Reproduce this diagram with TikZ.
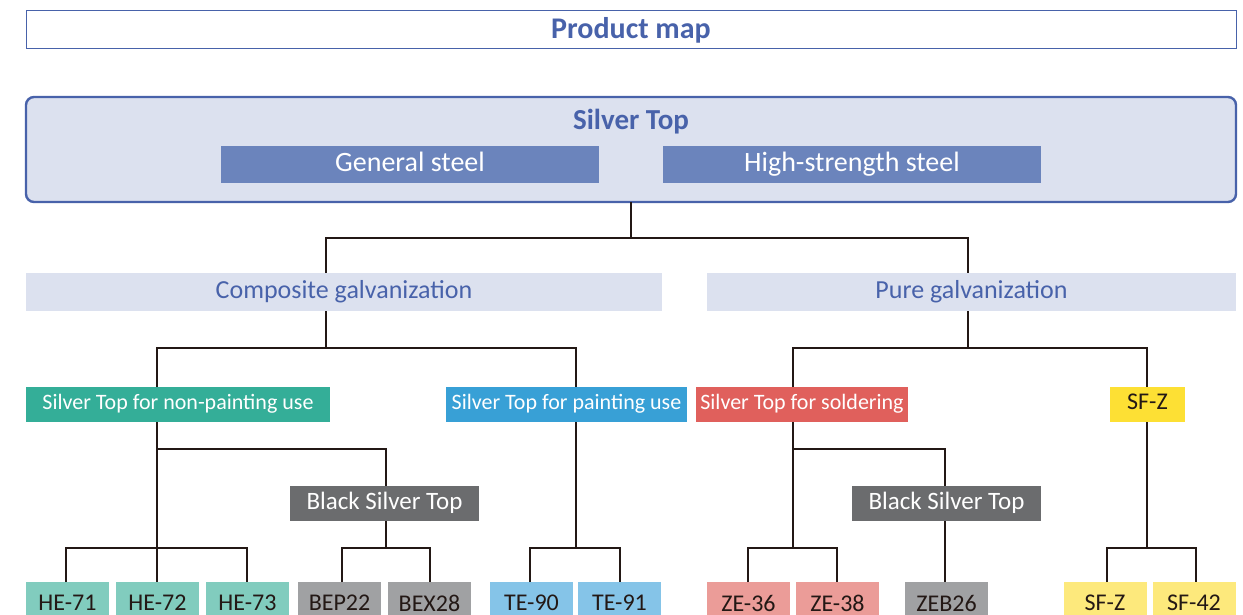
\documentclass[tikz,border=0pt]{standalone}
\usepackage{fontspec}
\setmainfont{Carlito}
\usepackage{tikz}

\definecolor{mapblue}{RGB}{72,98,170}
\definecolor{mappale}{RGB}{220,225,239}
\definecolor{steelblue}{RGB}{107,132,188}
\definecolor{linedark}{RGB}{35,24,21}
\definecolor{grn}{RGB}{52,174,152}
\definecolor{grnlight}{RGB}{129,204,190}
\definecolor{pblue}{RGB}{56,160,214}
\definecolor{pbluelight}{RGB}{133,196,232}
\definecolor{sred}{RGB}{224,96,92}
\definecolor{sredlight}{RGB}{235,156,152}
\definecolor{syel}{RGB}{253,224,52}
\definecolor{syellight}{RGB}{253,233,124}
\definecolor{bgray}{RGB}{107,108,110}
\definecolor{bgraylight}{RGB}{160,161,163}

\tikzset{
  box/.style={inner sep=0pt,outer sep=0pt,align=center},
  catbox/.style={box,fill=mappale,text=mapblue,minimum height=38pt,text height=18.2pt,text depth=5.7pt,font=\fontsize{26}{28}\selectfont},
  steelbox/.style={box,fill=steelblue,text=white,minimum width=378pt,minimum height=37pt,text height=19.6pt,text depth=6.2pt,font=\fontsize{28}{30}\selectfont},
  usebox/.style={box,text=white,minimum height=35pt,text height=15.4pt,text depth=4.8pt,font=\fontsize{22}{24}\selectfont},
  blackbox/.style={box,fill=bgray,text=white,minimum width=189pt,minimum height=35pt,text height=17.5pt,text depth=5.5pt,font=\fontsize{25}{27}\selectfont},
  leaf/.style={box,text=linedark,minimum width=83pt,minimum height=42pt,text depth=0pt,font=\fontsize{24}{26}\selectfont},
  link/.style={draw=linedark,line width=2.8pt}
}

\begin{document}
\begin{tikzpicture}[x=1pt,y=-1pt]
	\useasboundingbox (0,0) rectangle (1243,615);
	\clip (0,0) rectangle (1243,615);
	% Titel
	\node[box,draw=mapblue,line width=1pt,minimum width=1210pt,minimum height=38pt,text=mapblue,font=\fontsize{30}{32}\selectfont\bfseries] (title) at (631,30) {Product map};
	% Silver Top
	\node[box,draw=mapblue,fill=mappale,line width=2.4pt,rounded corners=8pt,minimum width=1210pt,minimum height=105pt] (st) at (631,149.5) {};
	\node[box,text=mapblue,font=\fontsize{29}{31}\selectfont\bfseries] (sttext) at (631,122) {Silver Top};
	\node[steelbox] (gen) at (410,164.5) {General steel};
	\node[steelbox] (hss) at (852,164.5) {High-strength steel};
	% Verzinkung
	\node[catbox,minimum width=636pt] (comp) at (344,292) {Composite galvanization};
	\node[catbox,minimum width=529pt] (pure) at (971.5,292) {Pure galvanization};
	% Verwendung
	\node[usebox,fill=grn,minimum width=304pt] (nsp) at (178,404.5) {Silver Top for non-painting use};
	\node[usebox,fill=pblue,minimum width=241pt] (pnt) at (566.5,404.5) {Silver Top for painting use};
	\node[usebox,fill=sred,minimum width=212pt] (sld) at (802,404.5) {Silver Top for soldering};
	\node[usebox,fill=syel,text=linedark,minimum width=75pt,font=\fontsize{24}{26}\selectfont] (sfz) at (1147.5,404.5) {SF-Z};
	\node[blackbox] (bst1) at (384.5,503.5) {Black Silver Top};
	\node[blackbox] (bst2) at (946.5,503.5) {Black Silver Top};
	% Produkte
	\node[leaf,fill=grnlight] (he71) at (67.5,603) {HE-71};
	\node[leaf,fill=grnlight] (he72) at (157.5,603) {HE-72};
	\node[leaf,fill=grnlight] (he73) at (247.5,603) {HE-73};
	\node[leaf,fill=bgraylight] (bep22) at (339.5,603) {BEP22};
	\node[leaf,fill=bgraylight] (bex28) at (429.5,603) {BEX28};
	\node[leaf,fill=pbluelight] (te90) at (531.5,603) {TE-90};
	\node[leaf,fill=pbluelight] (te91) at (619.5,603) {TE-91};
	\node[leaf,fill=sredlight] (ze36) at (748.5,603) {ZE-36};
	\node[leaf,fill=sredlight] (ze38) at (837.5,603) {ZE-38};
	\node[leaf,fill=bgraylight] (zeb26) at (946.5,603) {ZEB26};
	\node[leaf,fill=syellight] (sfz2) at (1105,603) {SF-Z};
	\node[leaf,fill=syellight] (sf42) at (1194,603) {SF-42};
	% Verbindungen
	\coordinate (j0) at (631,238);
	\coordinate (j1) at (326,348);
	\coordinate (j2) at (968,348);
	\coordinate (j3) at (157,548);
	\coordinate (j3b) at (157,449);
	\coordinate (j4) at (386,548);
	\coordinate (j5) at (576,548);
	\coordinate (j6) at (793,548);
	\coordinate (j6b) at (793,449);
	\coordinate (j7) at (1147,548);
	\draw[link] (st.south) -- (j0);
	\draw[link] (j1 |- comp.north) |- (j0) -| (j2 |- pure.north);
	\draw[link] (j1 |- comp.south) -- (j1);
	\draw[link] (j3 |- nsp.north) |- (j1) -| (j5 |- pnt.north);
	\draw[link] (j2 |- pure.south) -- (j2);
	\draw[link] (j6 |- sld.north) |- (j2) -| (j7 |- sfz.north);
	% links
	\draw[link] (j3 |- nsp.south) -- (j3 |- he72.north);
	\draw[link] (he71.north -| 66,0) |- (j3) -| (he73.north -| 247,0);
	\draw[link] (j3b) -| (j4 |- bst1.north);
	\draw[link] (j4 |- bst1.south) -- (j4);
	\draw[link] (bep22.north -| 342,0) |- (j4) -| (bex28.north -| 430,0);
	\draw[link] (j5 |- pnt.south) -- (j5);
	\draw[link] (te90.north -| 530,0) |- (j5) -| (te91.north -| 620,0);
	% rechts
	\draw[link] (j6 |- sld.south) -- (j6);
	\draw[link] (ze36.north -| 748,0) |- (j6) -| (ze38.north -| 837,0);
	\draw[link] (j6b) -| (bst2.north -| 945,0);
	\draw[link] (bst2.south -| 945,0) -- (zeb26.north -| 945,0);
	\draw[link] (j7 |- sfz.south) -- (j7);
	\draw[link] (sfz2.north -| 1107,0) |- (j7) -| (sf42.north -| 1196,0);
\end{tikzpicture}
\end{document}
